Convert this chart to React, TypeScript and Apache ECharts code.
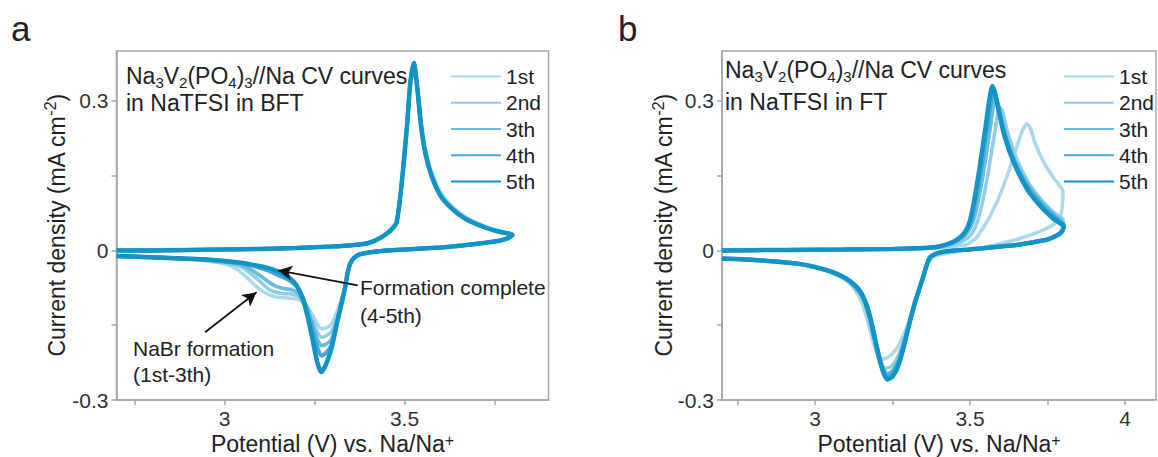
import React, { useEffect, useRef } from 'react';
import * as echarts from 'echarts';

// ---------- labels ----------
const cycleNames = ['1st', '2nd', '3th', '4th', '5th'];
const cycleColors = ['#aad9eb', '#8fcde6', '#6bbcdd', '#41a9d4', '#1394c6'];
const cycleWidths = [3.5, 3.5, 3.7, 4, 4.5];

const yTickValues = [-0.3, -0.15, 0, 0.15, 0.3];
const yLabelValues = [-0.3, 0, 0.3];
const xTickLeft = [2.75, 3, 3.25, 3.5, 3.75];
const xLabelLeft = [3, 3.5];
const xTickRight = [2.75, 3, 3.25, 3.5, 3.75, 4];
const xLabelRight = [3, 3.5, 4];

// ---------- panel a (BFT) ----------
const leftAnodicFirst = [
  [2.7, 0.0], [2.8, 0.0], [2.9, 0.001], [3.0, 0.002], [3.1, 0.003], [3.2, 0.005], [3.3, 0.008],
  [3.36, 0.011], [3.4, 0.015], [3.43, 0.024], [3.455, 0.036], [3.47, 0.047], [3.478, 0.056],
  [3.487, 0.1], [3.497, 0.17], [3.507, 0.25], [3.516, 0.33], [3.526, 0.372], [3.536, 0.33],
  [3.546, 0.262], [3.558, 0.205], [3.575, 0.158], [3.6, 0.118], [3.63, 0.09], [3.67, 0.067],
  [3.72, 0.05], [3.76, 0.04], [3.8, 0.032],
];
const leftAnodic = [
  [2.7, 0.0], [2.8, 0.0], [2.9, 0.001], [3.0, 0.002], [3.1, 0.003], [3.2, 0.005], [3.3, 0.008],
  [3.36, 0.011], [3.4, 0.015], [3.43, 0.024], [3.455, 0.036], [3.47, 0.047], [3.478, 0.056],
  [3.487, 0.1], [3.497, 0.17], [3.507, 0.25], [3.516, 0.335], [3.526, 0.376], [3.536, 0.322],
  [3.546, 0.25], [3.558, 0.195], [3.575, 0.15], [3.6, 0.11], [3.63, 0.085], [3.67, 0.063],
  [3.72, 0.047], [3.76, 0.038], [3.8, 0.031],
];
const leftReturn = [
  [3.785, 0.024], [3.76, 0.019], [3.72, 0.015], [3.66, 0.01], [3.6, 0.006], [3.5, 0.002],
  [3.45, 0.0], [3.4, -0.004], [3.375, -0.008], [3.36, -0.015], [3.35, -0.025], [3.342, -0.045],
];
const leftCathodic1 = [
  [3.335, -0.072], [3.315, -0.118], [3.297, -0.148], [3.28, -0.156], [3.269, -0.157], [3.258, -0.148],
  [3.245, -0.13], [3.23, -0.113], [3.21, -0.1], [3.19, -0.096], [3.165, -0.095], [3.14, -0.093],
  [3.11, -0.084], [3.085, -0.07], [3.06, -0.053], [3.035, -0.038], [3.0, -0.027], [2.95, -0.021],
  [2.85, -0.016], [2.7, -0.012],
];
const leftCathodic2 = [
  [3.335, -0.074], [3.315, -0.13], [3.297, -0.163], [3.28, -0.172], [3.269, -0.174], [3.258, -0.163],
  [3.245, -0.14], [3.23, -0.115], [3.215, -0.098], [3.2, -0.09], [3.18, -0.087], [3.155, -0.086],
  [3.125, -0.079], [3.1, -0.063], [3.07, -0.045], [3.04, -0.031], [2.95, -0.02], [2.85, -0.016],
  [2.7, -0.012],
];
const leftCathodic3 = [
  [3.335, -0.075], [3.315, -0.135], [3.297, -0.178], [3.28, -0.189], [3.269, -0.191], [3.258, -0.178],
  [3.245, -0.15], [3.23, -0.118], [3.215, -0.095], [3.2, -0.083], [3.18, -0.078], [3.16, -0.076],
  [3.13, -0.067], [3.1, -0.051], [3.07, -0.037], [3.04, -0.028], [2.95, -0.019], [2.85, -0.015],
  [2.7, -0.011],
];
const leftCathodic4 = [
  [3.335, -0.075], [3.315, -0.137], [3.297, -0.19], [3.28, -0.207], [3.269, -0.211], [3.258, -0.195],
  [3.245, -0.16], [3.23, -0.12], [3.215, -0.09], [3.2, -0.072], [3.18, -0.06], [3.15, -0.05],
  [3.12, -0.04], [3.08, -0.031], [3.04, -0.025], [2.95, -0.018], [2.85, -0.015], [2.7, -0.011],
];
const leftCathodic5 = [
  [3.335, -0.075], [3.315, -0.137], [3.297, -0.197], [3.28, -0.232], [3.269, -0.244], [3.258, -0.225],
  [3.245, -0.18], [3.23, -0.13], [3.215, -0.093], [3.2, -0.07], [3.18, -0.055], [3.15, -0.043],
  [3.12, -0.035], [3.08, -0.029], [3.04, -0.024], [2.95, -0.018], [2.85, -0.015], [2.7, -0.011],
];

// ---------- panel b (FT) ----------
const rightAnodic1 = [
  [2.7, 0.0], [2.9, 0.001], [3.1, 0.002], [3.3, 0.004], [3.4, 0.006], [3.45, 0.008], [3.49, 0.012],
  [3.52, 0.025], [3.555, 0.058], [3.58, 0.088], [3.6, 0.116], [3.62, 0.15], [3.641, 0.188],
  [3.66, 0.225], [3.672, 0.244], [3.683, 0.254], [3.695, 0.245], [3.71, 0.215], [3.74, 0.174],
  [3.77, 0.145], [3.8, 0.118],
];
const rightAnodic2 = [
  [2.7, 0.0], [2.9, 0.001], [3.1, 0.002], [3.25, 0.003], [3.35, 0.004], [3.4, 0.006], [3.45, 0.012],
  [3.48, 0.02], [3.505, 0.033], [3.525, 0.06], [3.545, 0.11], [3.565, 0.18], [3.58, 0.238],
  [3.595, 0.287], [3.605, 0.28], [3.62, 0.24], [3.65, 0.185], [3.69, 0.135], [3.735, 0.098],
  [3.775, 0.074], [3.8, 0.062],
];
const rightAnodic3 = [
  [2.7, 0.0], [2.9, 0.001], [3.1, 0.002], [3.25, 0.003], [3.35, 0.005], [3.4, 0.007], [3.44, 0.014],
  [3.47, 0.023], [3.492, 0.036], [3.51, 0.058], [3.527, 0.1], [3.543, 0.155], [3.562, 0.232],
  [3.573, 0.28], [3.582, 0.305], [3.591, 0.292], [3.601, 0.265], [3.62, 0.222], [3.65, 0.172],
  [3.695, 0.124], [3.74, 0.09], [3.778, 0.067], [3.802, 0.054],
];
const rightAnodic4 = [
  [2.7, 0.0], [2.9, 0.001], [3.1, 0.002], [3.25, 0.003], [3.35, 0.005], [3.4, 0.008], [3.44, 0.015],
  [3.465, 0.023], [3.485, 0.035], [3.502, 0.056], [3.518, 0.1], [3.534, 0.156], [3.553, 0.235],
  [3.566, 0.29], [3.576, 0.318], [3.585, 0.305], [3.595, 0.278], [3.615, 0.228], [3.645, 0.176],
  [3.69, 0.123], [3.735, 0.089], [3.775, 0.066], [3.803, 0.05],
];
const rightAnodic5 = [
  [2.7, 0.0], [2.9, 0.001], [3.1, 0.002], [3.25, 0.003], [3.35, 0.005], [3.4, 0.008], [3.44, 0.016],
  [3.465, 0.025], [3.485, 0.038], [3.5, 0.06], [3.515, 0.105], [3.53, 0.162], [3.55, 0.247],
  [3.562, 0.3], [3.572, 0.33], [3.58, 0.318], [3.59, 0.288], [3.61, 0.232], [3.64, 0.178],
  [3.685, 0.122], [3.73, 0.087], [3.77, 0.063], [3.803, 0.047],
];
const rightReturn1 = [
  [3.797, 0.085], [3.79, 0.065], [3.77, 0.052], [3.74, 0.042], [3.7, 0.032], [3.65, 0.022],
  [3.6, 0.014], [3.55, 0.007], [3.5, 0.002], [3.44, -0.004], [3.4, -0.009], [3.38, -0.013],
];
const rightReturn = [
  [3.795, 0.037], [3.78, 0.03], [3.75, 0.022], [3.7, 0.016], [3.65, 0.011], [3.6, 0.008],
  [3.55, 0.005], [3.5, 0.002], [3.45, 0.0], [3.41, -0.003], [3.385, -0.008], [3.37, -0.015],
];
const rightCathodic1 = [
  [3.36, -0.03], [3.348, -0.053], [3.335, -0.077], [3.32, -0.105], [3.305, -0.138], [3.29, -0.163],
  [3.27, -0.19], [3.25, -0.207], [3.23, -0.216], [3.213, -0.218], [3.2, -0.207], [3.185, -0.178],
  [3.168, -0.138], [3.15, -0.103], [3.13, -0.08], [3.11, -0.065], [3.08, -0.052], [3.04, -0.041],
  [2.98, -0.031], [2.9, -0.025], [2.8, -0.02], [2.7, -0.017],
];
const rightCathodic2 = [
  [3.36, -0.03], [3.348, -0.054], [3.335, -0.079], [3.32, -0.108], [3.305, -0.142], [3.286, -0.182],
  [3.268, -0.212], [3.25, -0.23], [3.235, -0.236], [3.222, -0.235], [3.21, -0.222], [3.196, -0.192],
  [3.18, -0.15], [3.163, -0.112], [3.145, -0.088], [3.125, -0.072], [3.095, -0.057], [3.055, -0.045],
  [3.0, -0.034], [2.95, -0.027], [2.85, -0.021], [2.75, -0.017], [2.7, -0.016],
];
const rightCathodic3 = [
  [3.36, -0.03], [3.348, -0.055], [3.335, -0.08], [3.32, -0.11], [3.305, -0.145], [3.286, -0.188],
  [3.268, -0.222], [3.25, -0.241], [3.238, -0.246], [3.228, -0.245], [3.215, -0.228], [3.2, -0.192],
  [3.185, -0.148], [3.168, -0.11], [3.15, -0.088], [3.13, -0.072], [3.1, -0.057], [3.06, -0.045],
  [3.0, -0.034], [2.95, -0.027], [2.85, -0.021], [2.75, -0.017], [2.7, -0.016],
];
const rightCathodic4 = [
  [3.36, -0.03], [3.348, -0.055], [3.335, -0.08], [3.32, -0.11], [3.305, -0.145], [3.286, -0.19],
  [3.268, -0.226], [3.25, -0.246], [3.232, -0.253], [3.22, -0.243], [3.207, -0.218], [3.192, -0.178],
  [3.177, -0.137], [3.162, -0.106], [3.147, -0.087], [3.127, -0.071], [3.1, -0.057], [3.06, -0.045],
  [3.0, -0.034], [2.95, -0.027], [2.85, -0.021], [2.75, -0.017], [2.7, -0.016],
];
const rightCathodic5 = [
  [3.36, -0.03], [3.348, -0.055], [3.335, -0.08], [3.32, -0.11], [3.305, -0.145], [3.286, -0.194],
  [3.268, -0.232], [3.25, -0.253], [3.234, -0.259], [3.222, -0.247], [3.21, -0.222], [3.195, -0.182],
  [3.18, -0.14], [3.165, -0.107], [3.15, -0.086], [3.13, -0.07], [3.1, -0.056], [3.06, -0.044],
  [3.0, -0.033], [2.95, -0.027], [2.85, -0.021], [2.75, -0.017], [2.7, -0.016],
];

// ---------- annotation arrows (data coordinates of panel a) ----------
const arrowFormationComplete = [[3.37, -0.07], [3.149, -0.04]];
const arrowNaBr = [[2.946, -0.164], [3.089, -0.084]];

const FONT = '"Liberation Sans", Arial, sans-serif';

export default function App() {
  const ref = useRef<HTMLDivElement>(null);

  useEffect(() => {
    if (!ref.current) return;
    const chart = echarts.init(ref.current, undefined, { renderer: 'svg' });

    const leftLoops = [
      leftAnodicFirst.concat(leftReturn, leftCathodic1),
      leftAnodic.concat(leftReturn, leftCathodic2),
      leftAnodic.concat(leftReturn, leftCathodic3),
      leftAnodic.concat(leftReturn, leftCathodic4),
      leftAnodic.concat(leftReturn, leftCathodic5),
    ];
    const rightLoops = [
      rightAnodic1.concat(rightReturn1, rightCathodic1),
      rightAnodic2.concat(rightReturn, rightCathodic2),
      rightAnodic3.concat(rightReturn, rightCathodic3),
      rightAnodic4.concat(rightReturn, rightCathodic4),
      rightAnodic5.concat(rightReturn, rightCathodic5),
    ];

    const axisGray = '#a6a6a6';
    const labelStyle = { color: '#333', fontSize: 21, fontFamily: FONT };
    const supRich = { sup: { fontSize: 16, fontFamily: FONT, color: '#222', verticalAlign: 'top' } };
    const yNameStyle = { color: '#222', fontSize: 23, fontFamily: FONT, lineHeight: 28, rich: supRich };
    const xNameStyle = { color: '#222', fontSize: 23, fontFamily: FONT, lineHeight: 23, rich: supRich };

    const makeX = (gi: number, max: number, ticks: number[], labels: number[]) => ({
      type: 'value',
      gridIndex: gi,
      min: 2.7,
      max,
      name: 'Potential (V) vs. Na/Na{sup|+}',
      nameLocation: 'middle',
      nameGap: 32,
      nameMoveOverlap: false,
      nameTextStyle: xNameStyle,
      axisLine: { show: true, onZero: false, lineStyle: { color: axisGray, width: 1.5 } },
      axisTick: { show: true, length: 5, customValues: ticks, lineStyle: { color: axisGray, width: 1.5 } },
      axisLabel: { ...labelStyle, margin: 8, customValues: labels },
      splitLine: { show: false },
    });
    const makeY = (gi: number, gap: number) => ({
      type: 'value',
      gridIndex: gi,
      min: -0.3,
      max: 0.4,
      name: 'Current density (mA cm{sup|-2})',
      nameLocation: 'middle',
      nameGap: gap,
      nameMoveOverlap: false,
      nameTextStyle: yNameStyle,
      axisLine: { show: true, onZero: false, lineStyle: { color: axisGray, width: 1.5 } },
      axisTick: { show: true, length: 5, customValues: yTickValues, lineStyle: { color: axisGray, width: 1.5 } },
      axisLabel: { ...labelStyle, margin: 8, customValues: yLabelValues },
      splitLine: { show: false },
    });

    const series: any[] = [];
    leftLoops.forEach((d, i) => {
      series.push({
        type: 'line',
        name: cycleNames[i],
        xAxisIndex: 0,
        yAxisIndex: 0,
        data: d,
        showSymbol: false,
        symbol: 'none',
        smooth: 0.2,
        lineStyle: { color: cycleColors[i], width: cycleWidths[i] },
        itemStyle: { color: cycleColors[i] },
      });
    });
    rightLoops.forEach((d, i) => {
      series.push({
        type: 'line',
        name: cycleNames[i],
        xAxisIndex: 1,
        yAxisIndex: 1,
        data: d,
        showSymbol: false,
        symbol: 'none',
        smooth: 0.2,
        lineStyle: { color: cycleColors[i], width: cycleWidths[i] },
        itemStyle: { color: cycleColors[i] },
      });
    });
    series[4].markLine = {
      silent: true,
      animation: false,
      symbol: ['none', 'arrow'],
      symbolSize: [11, 14],
      label: { show: false },
      lineStyle: { color: '#111', width: 1.8, type: 'solid' },
      data: [
        [{ coord: arrowFormationComplete[0] }, { coord: arrowFormationComplete[1] }],
        [{ coord: arrowNaBr[0] }, { coord: arrowNaBr[1] }],
      ],
    };

    const legendBase = {
      data: cycleNames,
      orient: 'vertical',
      top: 66,
      padding: 0,
      itemWidth: 50,
      itemHeight: 2,
      itemGap: 5.25,
      selectedMode: false,
      itemStyle: { opacity: 0 },
      textStyle: { fontSize: 21, color: '#222', fontFamily: FONT },
    };

    const titleText = (x: number, y: number, text: string) => ({
      type: 'text',
      x,
      y,
      silent: true,
      style: {
        text,
        fill: '#222',
        fontSize: 23,
        fontFamily: FONT,
        lineHeight: 27,
        verticalAlign: 'middle',
        align: 'left',
        rich: {
          sub: { fontSize: 15, fontFamily: FONT, fill: '#222', verticalAlign: 'bottom' },
        },
      },
    });
    const plainText = (x: number, y: number, text: string, size: number) => ({
      type: 'text',
      x,
      y,
      silent: true,
      style: {
        text,
        fill: '#222',
        fontSize: size,
        fontFamily: FONT,
        verticalAlign: 'middle',
        align: 'left',
      },
    });

    chart.setOption({
      animation: false,
      textStyle: { fontFamily: FONT },
      grid: [
        { left: 116.5, top: 51, width: 432, height: 349, show: true, borderColor: axisGray, borderWidth: 1.5, outerBoundsMode: 'none' },
        { left: 722, top: 51, width: 434, height: 349, show: true, borderColor: axisGray, borderWidth: 1.5, outerBoundsMode: 'none' },
      ],
      xAxis: [makeX(0, 3.9, xTickLeft, xLabelLeft), makeX(1, 4.1, xTickRight, xLabelRight)],
      yAxis: [makeY(0, 46), makeY(1, 44)],
      legend: [
        { ...legendBase, left: 450 },
        { ...legendBase, left: 1063 },
      ],
      series,
      graphic: [
        plainText(11, 28, 'a', 35),
        plainText(618, 28, 'b', 35),
        titleText(126, 76, 'Na{sub|3}V{sub|2}(PO{sub|4}){sub|3}//Na CV curves'),
        plainText(126, 103, 'in NaTFSI in BFT', 23),
        titleText(725, 70, 'Na{sub|3}V{sub|2}(PO{sub|4}){sub|3}//Na CV curves'),
        plainText(725, 101.7, 'in NaTFSI in FT', 23),
        plainText(360, 287, 'Formation complete', 21),
        plainText(360, 315, '(4-5th)', 21),
        plainText(133, 348, 'NaBr formation', 21),
        plainText(133, 374, '(1st-3th)', 21),
      ],
    });

    return () => chart.dispose();
  }, []);

  return (
    <div
      ref={ref}
      style={{ position: 'absolute', left: 0, top: 0, width: 1158, height: 457, background: '#fff' }}
    />
  );
}
